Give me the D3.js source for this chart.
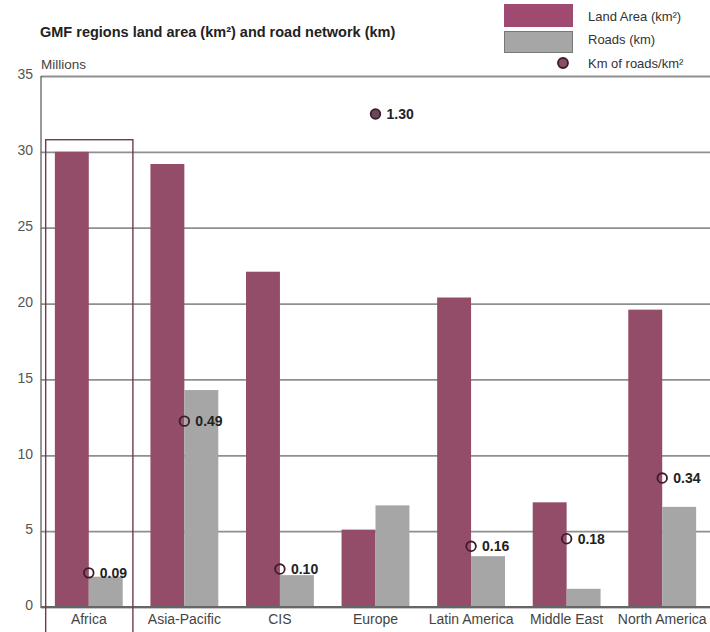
<!DOCTYPE html>
<html>
<head>
<meta charset="utf-8">
<script src="https://cdn.jsdelivr.net/npm/d3@7/dist/d3.min.js"></script>
<style>
  body { margin: 0; background: #fff; }
  svg { display: block; }
  text { font-family: "Liberation Sans", Arial, Helvetica, sans-serif; }
</style>
</head>
<body>
<svg id="chart" width="710" height="632"></svg>
<script>
const categories = ["Africa", "Asia-Pacific", "CIS", "Europe", "Latin America", "Middle East", "North America"];
const landArea = [30.0, 29.2, 22.1, 5.1, 20.4, 6.9, 19.6];
const roads = [2.0, 14.3, 2.1, 6.7, 3.35, 1.2, 6.6];
const density = [0.09, 0.49, 0.10, 1.30, 0.16, 0.18, 0.34];
const densityLabels = ["0.09", "0.49", "0.10", "1.30", "0.16", "0.18", "0.34"];
const yTicks = [0, 5, 10, 15, 20, 25, 30, 35];

const landColor = "#934d69";
const roadColor = "#a6a6a6";
const dotStroke = "#3d1a2c";

const svg = d3.select("#chart");
const mLeft = 41, mRight = 710, mTop = 76, mBottom = 607;

const x = d3.scaleBand().domain(categories).range([mLeft, mRight]).paddingInner(0.29).paddingOuter(0.145);
const y = d3.scaleLinear().domain([0, 35]).range([mBottom, mTop]);
const y2 = d3.scaleLinear().domain([0, 1.4]).range([mBottom, mTop]);

// gridlines
const grid = d3.axisLeft(y).tickValues(yTicks).tickSize(-(mRight - mLeft)).tickFormat("");
svg.append("g").attr("transform", `translate(${mLeft},0)`).call(grid)
  .call(g => g.select(".domain").remove())
  .call(g => g.selectAll("line").attr("stroke", "#8f8f8f").attr("stroke-width", 1.8));

// tick labels
const yAxis = d3.axisLeft(y).tickValues(yTicks).tickSize(0).tickPadding(8);
svg.append("g").attr("transform", `translate(${mLeft},0)`).call(yAxis)
  .call(g => g.select(".domain").remove())
  .call(g => g.selectAll("text").attr("fill", "#555").attr("font-size", 14).attr("dy", "0.2em")
    .attr("font-family", "'Liberation Sans Narrow', 'Liberation Sans', Arial, sans-serif"));

// bars
const bw = x.bandwidth() / 2;
svg.append("g").selectAll("rect").data(categories).join("rect")
  .attr("x", d => x(d)).attr("width", bw)
  .attr("y", (d, i) => y(landArea[i])).attr("height", (d, i) => y(0) - y(landArea[i]))
  .attr("fill", landColor);
svg.append("g").selectAll("rect").data(categories).join("rect")
  .attr("x", d => x(d) + bw).attr("width", bw)
  .attr("y", (d, i) => y(roads[i])).attr("height", (d, i) => y(0) - y(roads[i]))
  .attr("fill", roadColor);

// axes lines
svg.append("line").attr("x1", mLeft).attr("x2", mLeft).attr("y1", mTop).attr("y2", mBottom + 1)
  .attr("stroke", "#555").attr("stroke-width", 1.2);
svg.append("line").attr("x1", mLeft).attr("x2", mRight).attr("y1", mBottom).attr("y2", mBottom)
  .attr("stroke", "#666").attr("stroke-width", 1.8);

// category labels
const xAxis = d3.axisBottom(x).tickSize(0).tickPadding(7);
svg.append("g").attr("transform", `translate(0,${mBottom})`).call(xAxis)
  .call(g => g.select(".domain").remove())
  .call(g => g.selectAll("text").attr("fill", "#444").attr("font-size", 14)
    .attr("font-family", "'Liberation Sans', Arial, sans-serif"));

// Africa highlight box
svg.append("rect")
  .attr("x", x("Africa") - x.bandwidth() * 0.15 + 1).attr("y", y(30.8))
  .attr("width", x.bandwidth() * 1.3 - 1).attr("height", 632 - y(30.8) + 2)
  .attr("fill", "none").attr("stroke", "#6e3a52").attr("stroke-width", 1.4);

// density dots
const dg = svg.append("g");
dg.selectAll("circle").data(categories).join("circle")
  .attr("cx", d => x(d) + bw).attr("cy", (d, i) => y2(density[i]))
  .attr("r", 4.8)
  .attr("fill", (d, i) => density[i] > 1 ? "#6a4a5a" : "none")
  .attr("stroke", dotStroke).attr("stroke-width", 1.8);
dg.selectAll("text").data(categories).join("text")
  .attr("x", d => x(d) + bw + 11).attr("y", (d, i) => y2(density[i]))
  .attr("dy", "0.36em").attr("font-size", 14).attr("font-weight", "bold").attr("fill", "#222")
  .text((d, i) => densityLabels[i]);

// title
svg.append("text").attr("x", 40).attr("y", 37).attr("font-size", 14.5).attr("font-weight", "bold")
  .attr("fill", "#222").text("GMF regions land area (km²) and road network (km)");
svg.append("text").attr("x", 41).attr("y", 69).attr("font-size", 13.5).attr("fill", "#444").text("Millions");

// legend
const lg = svg.append("g");
lg.append("rect").attr("x", 504).attr("y", 4).attr("width", 69).attr("height", 23).attr("fill", "#a04a71");
lg.append("rect").attr("x", 504.5).attr("y", 31.5).attr("width", 68).attr("height", 21)
  .attr("fill", roadColor).attr("stroke", "#777").attr("stroke-width", 1);
lg.append("circle").attr("cx", 563).attr("cy", 63).attr("r", 5).attr("fill", "#8a4d66")
  .attr("stroke", dotStroke).attr("stroke-width", 1.8);
const legendText = ["Land Area (km²)", "Roads (km)", "Km of roads/km²"];
const legendY = [21, 44, 68];
lg.selectAll("text").data(legendText).join("text")
  .attr("x", 588).attr("y", (d, i) => legendY[i]).attr("font-size", 13).attr("fill", "#333")
  .text(d => d);
</script>
</body>
</html>
